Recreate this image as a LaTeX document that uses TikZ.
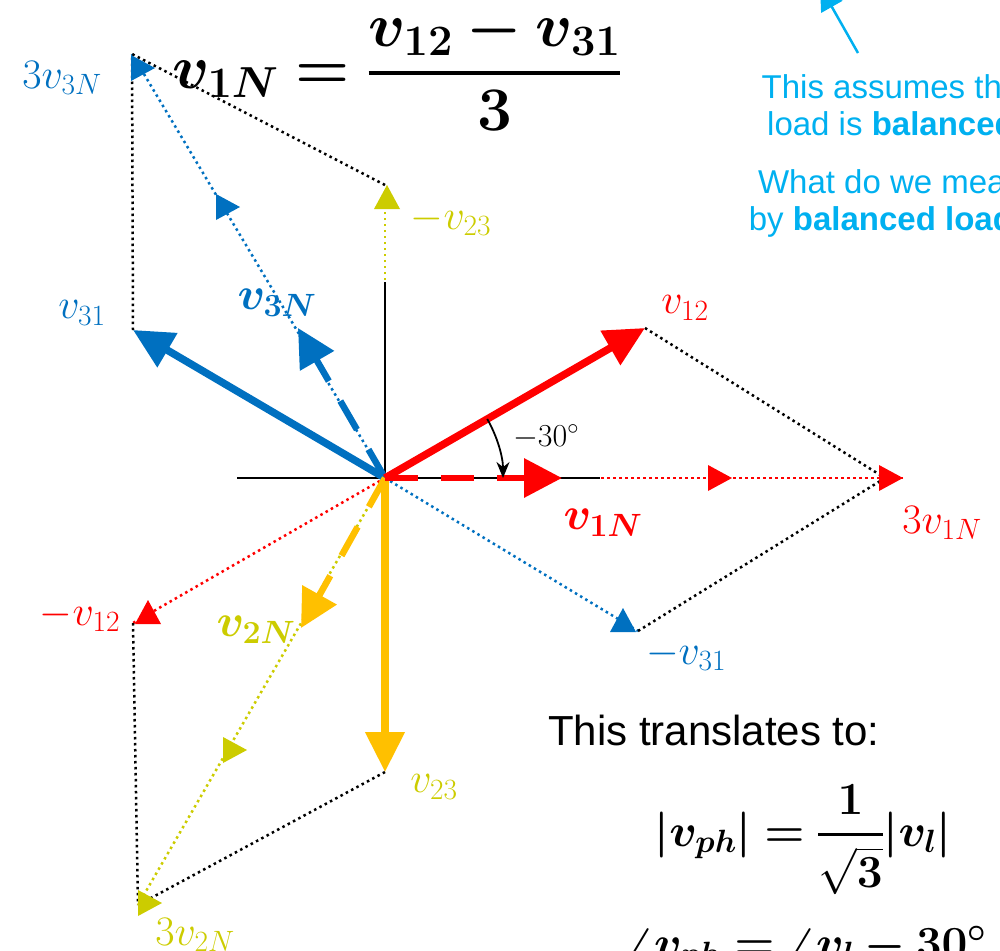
\RequirePackage{fix-cm}
\documentclass[tikz,border=0pt]{standalone}
\usepackage{amsmath,bm}
\usepackage[no-math]{fontspec}
\newfontfamily\arialf{Liberation Sans}
\usetikzlibrary{arrows.meta}
\definecolor{vred}{RGB}{255,0,0}
\definecolor{vblue}{RGB}{0,112,192}
\definecolor{vorange}{RGB}{255,192,0}
\definecolor{vyel}{RGB}{204,204,0}
\definecolor{lblue}{RGB}{0,176,240}
\tikzset{
  solidvec/.style={line width=7.5pt, -{Triangle[length=40pt,width=38pt]}},
  dashvec/.style={line width=6.5pt, dash pattern=on 33pt off 23pt, -{Triangle[length=38pt,width=38pt]}},
  dotline/.style={line width=2.5pt, dash pattern=on 2.5pt off 3.5pt},
  lbl/.style={font=\fontsize{42}{46}\selectfont, inner sep=0pt},
  blbl/.style={font=\fontsize{46}{50}\selectfont, inner sep=0pt},
  noteline/.style={font=\arialf\fontsize{33}{37}\selectfont, text=lblue, inner sep=0pt, anchor=base},
  trir/.pic={\fill[#1] (0,0) -- (-24,-13) -- (-24,13) -- cycle;},
  triu/.pic={\fill[#1] (0,0) -- (-13,24) -- (13,24) -- cycle;},
}
\begin{document}
\begin{tikzpicture}[x=1pt,y=-1pt]
\useasboundingbox (0,0) rectangle (1000,950);
% key points
\coordinate (O) at (385,478);
\coordinate (v12) at (645,328);
\coordinate (v31) at (133,330);
\coordinate (v23) at (385,772);
\coordinate (v1N) at (562,478);
\coordinate (v3N) at (298,328);
\coordinate (v2N) at (301,628);
\coordinate (t1N) at (903,478);
\coordinate (t1Nb) at (885,478);
\coordinate (t3N) at (132,54);
\coordinate (t2N) at (138,905);
\coordinate (m12) at (133,623);
\coordinate (m31) at (638,631);
\coordinate (m23) at (385,185);
\coordinate (m23b) at (385,205);
\coordinate (axL) at (237,478);
\coordinate (axR) at (600,478);
\coordinate (axT) at (385,282);
\coordinate (axB) at (385,674);
\coordinate (nA) at (858,53);
\coordinate (nB) at (820,-14);
% dotted construction lines
\draw[dotline,vred] (O) -- (t1N);
\draw[dotline,vred] (O) -- (m12);
\draw[dotline,vblue] (O) -- (t3N);
\draw[dotline,vblue] (O) -- (m31);
\draw[dotline,vyel] (O) -- (m23b);
\draw[dotline,vyel] (O) -- (t2N);
\draw[dotline,black] (v12) -- (t1Nb);
\draw[dotline,black] (m31) -- (t1Nb);
\draw[dotline,black] (v31) -- (t3N);
\draw[dotline,black] (m23) -- (t3N);
\draw[dotline,black] (m12) -- (t2N);
\draw[dotline,black] (v23) -- (t2N);
% axes
\draw[black,line width=1.5pt] (axL) -- (axR);
\draw[black,line width=1.5pt] (axT) -- (axB);
% arrowhead triangles on dotted lines
\pic at (903,478) {trir=vred};
\pic at (732,478) {trir=vred};
\pic at (155,68) {trir=vblue};
\pic at (240,207) {trir=vblue};
\pic at (247,750) {trir=vyel};
\pic at (162,903) {trir=vyel};
\pic at (387,185) {triu=vyel};
\pic at (623,608) {triu=vblue};
\pic at (148,600) {triu=vred};
% main vectors
\draw[solidvec,vblue] (O) -- (v31);
\draw[solidvec,vorange] (O) -- (v23);
\draw[dashvec,vblue] (O) -- (v3N);
\draw[dashvec,vorange] (O) -- (v2N);
\draw[solidvec,vred] (O) -- (v12);
\draw[dashvec,vred] (O) -- (v1N);
% angle arc
\draw[black,line width=1.8pt,-{Stealth[length=16pt,width=13pt]}] ([shift={(-30:118)}]O) arc[start angle=-30,end angle=0,radius=118];
\node[inner sep=0pt,font=\fontsize{32}{36}\selectfont] (ang) at (546,437) {$-30^{\circ}$};
% labels
\node[lbl,text=vred] (l12) at (685,308) {$v_{12}$};
\node[lbl,text=vred] (l3v1) at (942,523) {$3v_{1N}$};
\node[lbl,text=vblue] (lm31) at (686,655) {$-v_{31}$};
\node[lbl,text=vblue] (l3v3) at (62,78) {$3v_{3N}$};
\node[lbl,text=vblue] (l31) at (82,313) {$v_{31}$};
\node[lbl,text=vyel] (lm23) at (451,220) {$-v_{23}$};
\node[lbl,text=vred] (lm12) at (80,616) {$-v_{12}$};
\node[lbl,text=vyel] (l23) at (434,787) {$v_{23}$};
\node[lbl,text=vyel] (l3v2) at (195,935) {$3v_{2N}$};
\node[blbl,text=vblue] (l3N) at (277,303) {$\bm{v_{3N}}$};
\node[blbl,text=vred] (l1N) at (603,523) {$\bm{v_{1N}}$};
\node[blbl,text=vyel] (l2N) at (256,630) {$\bm{v_{2N}}$};
% main equation
\node[anchor=base,inner sep=0pt,font=\fontsize{62}{68}\selectfont] (eq1) at (397,88) {$\displaystyle \bm{v_{1N}}\mathrel{\bm{=}}\genfrac{}{}{4pt}{0}{\bm{v_{12}}\mathbin{\bm{-}}\bm{v_{31}}}{\bm{3}}$};
% note at top right
\draw[lblue,line width=2.5pt,-{Triangle[length=24pt,width=24pt]}] (nA) -- (nB);
\node[noteline] (n1) at (891,98) {This assumes the};
\node[noteline] (n2) at (891,135) {load is \textbf{balanced}};
\node[noteline] (n3) at (891,193) {What do we mean};
\node[noteline] (n4) at (891,230) {by \textbf{balanced load?}};
% bottom right text
\node[anchor=base west,inner sep=0pt,font=\arialf\fontsize{42}{46}\selectfont] (tt) at (548,745) {This translates to:};
\node[anchor=base,inner sep=0pt,font=\fontsize{46}{50}\selectfont] (eq2) at (803,846) {$\displaystyle \bm{|v_{ph}|}\mathrel{\bm{=}}\genfrac{}{}{3.5pt}{0}{\bm{1}}{\sqrt{\bm{3}}}\bm{|v_{l}|}$};
\node[anchor=base,inner sep=0pt,font=\fontsize{46}{50}\selectfont] (eq3) at (806,958) {$\bm{\angle v_{ph}}\mathrel{\bm{=}}\bm{\angle v_{l}}\mathbin{\bm{-}}\bm{30^{\circ}}$};
\end{tikzpicture}
\end{document}
